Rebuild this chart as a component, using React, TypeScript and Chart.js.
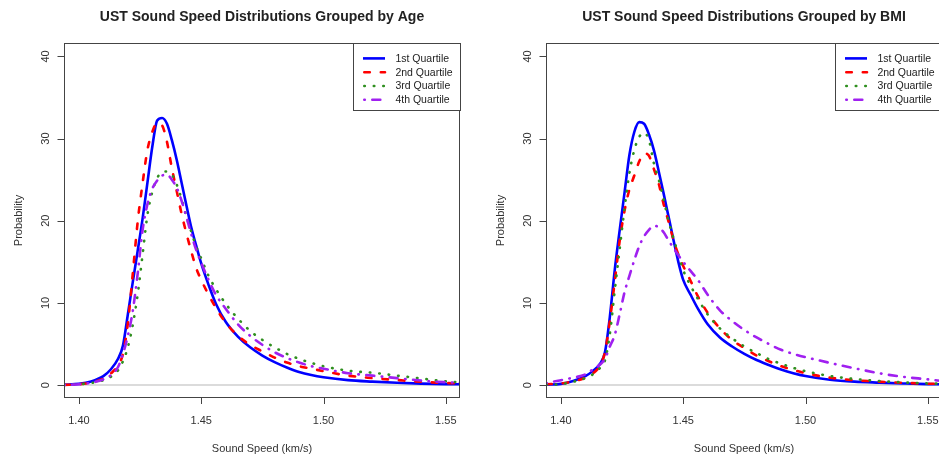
import { useEffect, useRef } from "react";
import { Chart, registerables } from "chart.js";

Chart.register(...registerables);

// ---- data ----
const speeds = [1.394, 1.4, 1.405, 1.41, 1.413, 1.416, 1.418, 1.42, 1.422, 1.424, 1.426, 1.428, 1.43, 1.432, 1.434, 1.436, 1.438, 1.44, 1.442, 1.444, 1.446, 1.448, 1.45, 1.453, 1.456, 1.46, 1.465, 1.47, 1.475, 1.48, 1.485, 1.49, 1.495, 1.5, 1.51, 1.52, 1.53, 1.54, 1.55, 1.556];

const ageQ1 = [0.05, 0.15, 0.45, 1.1, 1.9, 3.2, 4.8, 8.6, 12.5, 16.3, 20.2, 24.6, 29.0, 32.2, 32.5, 31.8, 29.8, 27.4, 24.6, 21.8, 19.1, 16.9, 14.8, 12.2, 9.9, 7.7, 5.9, 4.6, 3.6, 2.8, 2.15, 1.6, 1.22, 0.95, 0.6, 0.42, 0.28, 0.18, 0.12, 0.1];
const ageQ2 = [0.03, 0.1, 0.3, 0.8, 1.4, 2.4, 3.8, 7.5, 13.5, 19.8, 24.5, 28.6, 30.8, 31.9, 31.6, 29.6, 26.4, 23.6, 20.8, 18.4, 16.2, 14.2, 12.8, 11.0, 9.4, 7.6, 6.0, 4.9, 4.1, 3.35, 2.75, 2.3, 2.0, 1.7, 1.15, 0.85, 0.62, 0.4, 0.25, 0.2];
const ageQ3 = [0.03, 0.1, 0.25, 0.6, 1.0, 1.8, 2.9, 4.6, 7.3, 11.0, 15.8, 20.7, 23.5, 25.2, 25.9, 26.0, 25.6, 24.4, 22.6, 20.5, 18.6, 16.8, 15.4, 13.3, 11.7, 9.9, 8.1, 6.6, 5.5, 4.6, 3.8, 3.2, 2.7, 2.3, 1.75, 1.5, 1.15, 0.8, 0.45, 0.35];
const ageQ4 = [0.03, 0.1, 0.28, 0.7, 1.2, 2.2, 3.8, 6.0, 9.0, 13.5, 18.8, 22.0, 23.9, 24.9, 25.5, 25.6, 25.0, 24.0, 22.4, 20.4, 18.3, 16.4, 14.9, 12.8, 11.0, 9.3, 7.4, 6.0, 4.9, 4.0, 3.3, 2.75, 2.3, 2.0, 1.45, 1.15, 0.85, 0.55, 0.35, 0.3];

const bmiQ1 = [0.05, 0.15, 0.5, 1.1, 1.7, 2.6, 4.0, 8.3, 14.0, 18.8, 23.4, 28.0, 30.8, 32.0, 31.8, 30.5, 28.6, 26.0, 23.3, 20.5, 17.7, 15.0, 12.8, 11.0, 9.3, 7.4, 5.8, 4.7, 3.8, 3.05, 2.45, 1.9, 1.45, 1.1, 0.65, 0.42, 0.3, 0.2, 0.12, 0.1];
const bmiQ2 = [0.1, 0.2, 0.45, 0.9, 1.4, 2.4, 4.0, 7.8, 12.6, 17.5, 21.2, 23.8, 25.5, 27.2, 28.2, 27.9, 26.3, 24.5, 22.0, 19.9, 17.7, 15.9, 14.5, 12.7, 10.8, 8.8, 6.9, 5.5, 4.5, 3.6, 2.9, 2.3, 1.85, 1.45, 0.9, 0.6, 0.42, 0.28, 0.17, 0.15];
const bmiQ3 = [0.05, 0.12, 0.4, 0.85, 1.3, 2.1, 3.0, 6.2, 11.5, 16.5, 21.5, 25.8, 28.6, 30.2, 30.7, 29.8, 27.0, 25.0, 22.6, 20.0, 17.9, 15.9, 14.0, 12.1, 10.5, 8.6, 6.9, 5.7, 4.7, 3.9, 3.15, 2.6, 2.1, 1.7, 1.1, 0.75, 0.5, 0.33, 0.2, 0.17];
const bmiQ4 = [0.25, 0.6, 0.9, 1.3, 1.9, 2.5, 3.2, 4.7, 6.1, 8.6, 11.3, 13.3, 15.2, 16.9, 18.1, 18.9, 19.4, 19.2, 18.6, 17.6, 16.7, 15.8, 15.0, 13.9, 12.8, 11.0, 9.1, 7.8, 6.7, 5.8, 5.0, 4.3, 3.8, 3.4, 2.7, 2.05, 1.45, 1.0, 0.7, 0.5];

const seriesLabels = ["1st Quartile", "2nd Quartile", "3rd Quartile", "4th Quartile"];
const xTicks = [1.4, 1.45, 1.5, 1.55];
const yTicks = [0, 10, 20, 30, 40];
const titleAge = "UST Sound Speed Distributions Grouped by Age";
const titleBmi = "UST Sound Speed Distributions Grouped by BMI";
const xTitle = "Sound Speed (km/s)";
const yTitle = "Probability";

// ---- styles ----
const FONT = "'Liberation Sans', Arial, Helvetica, sans-serif";
const seriesStyles = [
  { color: "#0000FF", dash: [] as number[] },
  { color: "#FF0000", dash: [5.5, 11] },
  { color: "#2F8F1F", dash: [0.5, 9] },
  { color: "#A020F0", dash: [0.5, 7.5, 8, 7.5] },
];
const LW = 2.6;

function makePlugin(title: string) {
  return {
    id: "rplot",
    beforeDatasetsDraw(chart: any) {
      const { ctx, chartArea: a, scales } = chart;
      const y0 = scales.y.getPixelForValue(0);
      ctx.save();
      ctx.strokeStyle = "#cfcfcf";
      ctx.lineWidth = 1.5;
      ctx.beginPath();
      ctx.moveTo(a.left, y0);
      ctx.lineTo(a.right, y0);
      ctx.stroke();
      ctx.restore();
    },
    afterDraw(chart: any) {
      const { ctx, chartArea: a, scales } = chart;
      const xs = scales.x;
      const ys = scales.y;
      ctx.save();
      // box
      ctx.strokeStyle = "#444";
      ctx.lineWidth = 1;
      ctx.setLineDash([]);
      ctx.strokeRect(a.left + 0.5, a.top + 0.5, a.right - a.left - 1, a.bottom - a.top - 1);
      // ticks
      ctx.beginPath();
      for (const v of xTicks) {
        const px = Math.round(xs.getPixelForValue(v)) + 0.5;
        ctx.moveTo(px, a.bottom);
        ctx.lineTo(px, a.bottom + 6);
      }
      for (const v of yTicks) {
        const py = Math.round(ys.getPixelForValue(v)) + 0.5;
        ctx.moveTo(a.left, py);
        ctx.lineTo(a.left - 6.5, py);
      }
      ctx.stroke();
      // tick labels
      ctx.fillStyle = "#333";
      ctx.font = `11px ${FONT}`;
      ctx.textAlign = "center";
      ctx.textBaseline = "alphabetic";
      for (const v of xTicks) {
        ctx.fillText(v.toFixed(2), xs.getPixelForValue(v), a.bottom + 26);
      }
      for (const v of yTicks) {
        ctx.save();
        ctx.translate(a.left - 14.7, ys.getPixelForValue(v));
        ctx.rotate(-Math.PI / 2);
        ctx.fillText(String(v), 0, 0);
        ctx.restore();
      }
      // axis titles
      ctx.fillText(xTitle, (a.left + a.right) / 2, 451.5);
      ctx.save();
      ctx.translate(22, (a.top + a.bottom) / 2);
      ctx.rotate(-Math.PI / 2);
      ctx.fillText(yTitle, 0, 0);
      ctx.restore();
      // main title
      ctx.fillStyle = "#222";
      ctx.font = `bold 14px ${FONT}`;
      ctx.fillText(title, (a.left + a.right) / 2, 21);
      // legend
      const lw = 107;
      const lh = 68;
      const lx = a.right - lw;
      const ly = a.top;
      ctx.fillStyle = "#fff";
      ctx.fillRect(lx, ly, lw, lh);
      ctx.strokeStyle = "#444";
      ctx.lineWidth = 1;
      ctx.strokeRect(Math.round(lx) + 0.5, ly + 0.5, lw, lh - 1);
      ctx.font = `10.5px ${FONT}`;
      ctx.textAlign = "left";
      ctx.textBaseline = "middle";
      seriesLabels.forEach((lab, i) => {
        const cy = ly + 15.4 + i * 13.8;
        const st = seriesStyles[i];
        ctx.save();
        ctx.strokeStyle = st.color;
        ctx.lineWidth = LW;
        ctx.lineCap = i === 0 ? "butt" : "round";
        ctx.setLineDash(st.dash);
        ctx.beginPath();
        ctx.moveTo(lx + (i === 0 ? 10 : 11.3), cy);
        ctx.lineTo(lx + 32, cy);
        ctx.stroke();
        ctx.restore();
        ctx.fillStyle = "#222";
        ctx.fillText(lab, lx + 42.4, cy + 0.5);
      });
      ctx.restore();
    },
  };
}

function makeConfig(series: number[][], title: string): any {
  return {
    type: "line",
    data: {
      datasets: series.map((arr, i) => ({
        label: seriesLabels[i],
        data: speeds.map((x, j) => ({ x, y: arr[j] })),
        borderColor: seriesStyles[i].color,
        borderWidth: LW,
        borderDash: seriesStyles[i].dash,
        borderCapStyle: i === 0 ? "butt" : "round",
        borderJoinStyle: "round",
        pointRadius: 0,
        fill: false,
        cubicInterpolationMode: "monotone",
        order: series.length - 1 - i,
      })),
    },
    options: {
      responsive: false,
      maintainAspectRatio: false,
      devicePixelRatio: 1,
      animation: false,
      layout: { padding: { left: 64, right: 20, top: 43, bottom: 62 } },
      scales: {
        x: { type: "linear", display: false, min: 1.3939, max: 1.5558 },
        y: { type: "linear", display: false, min: -1.57, max: 41.63 },
      },
      plugins: {
        legend: { display: false },
        tooltip: { enabled: false },
        title: { display: false },
      },
      events: [],
    },
    plugins: [makePlugin(title)],
  };
}

export default function App() {
  const leftRef = useRef<HTMLCanvasElement | null>(null);
  const rightRef = useRef<HTMLCanvasElement | null>(null);

  useEffect(() => {
    const c1 = new Chart(leftRef.current as HTMLCanvasElement, makeConfig([ageQ1, ageQ2, ageQ3, ageQ4], titleAge));
    const c2 = new Chart(rightRef.current as HTMLCanvasElement, makeConfig([bmiQ1, bmiQ2, bmiQ3, bmiQ4], titleBmi));
    return () => {
      c1.destroy();
      c2.destroy();
    };
  }, []);

  return (
    <div
      style={{
        position: "fixed",
        left: 0,
        top: 0,
        width: 939,
        height: 460,
        overflow: "hidden",
        background: "#fff",
      }}
    >
      <canvas
        ref={leftRef}
        width={480}
        height={460}
        style={{ position: "absolute", left: 0, top: 0, width: 480, height: 460 }}
      />
      <canvas
        ref={rightRef}
        width={480}
        height={460}
        style={{ position: "absolute", left: 482, top: 0, width: 480, height: 460 }}
      />
    </div>
  );
}
